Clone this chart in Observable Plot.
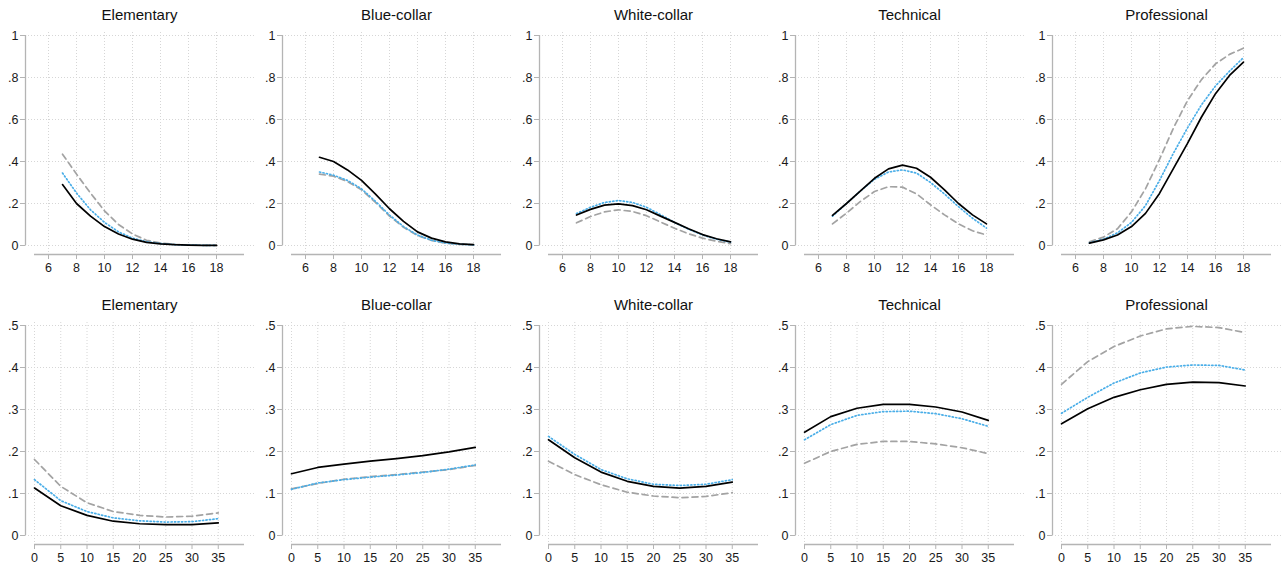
<!DOCTYPE html>
<html>
<head>
<meta charset="utf-8">
<script src="https://cdn.jsdelivr.net/npm/d3@7"></script>
<script src="https://cdn.jsdelivr.net/npm/@observablehq/plot@0.6"></script>
<style>
  html, body { margin: 0; padding: 0; background: #fff; }
  #wrap { position: relative; width: 1287px; height: 571px; font-family: "Liberation Sans", Arial, sans-serif; }
  .panel { position: absolute; width: 257px; }
  .ttl { height: 28px; line-height: 30px; text-align: center; font-size: 15px; color: #111; padding-left: 22px; box-sizing: border-box; }
  svg { display: block; }
</style>
</head>
<body>
<div id="wrap"></div>
<script>
const occupations = ["Elementary", "Blue-collar", "White-collar", "Technical", "Professional"];

// Top row: x = 7..18
const xTop = [7, 8, 9, 10, 11, 12, 13, 14, 15, 16, 17, 18];
const xTopDomain = [5, 20];
const xTopTicks = [6, 8, 10, 12, 14, 16, 18];
const yTopDomain = [0, 1];
const yTopTicks = [0, 0.2, 0.4, 0.6, 0.8, 1];

const topSolid = [
  [0.29, 0.20, 0.14, 0.09, 0.055, 0.03, 0.015, 0.008, 0.004, 0.002, 0.001, 0.0005],
  [0.42, 0.40, 0.36, 0.31, 0.245, 0.175, 0.115, 0.065, 0.035, 0.017, 0.008, 0.004],
  [0.145, 0.172, 0.192, 0.198, 0.19, 0.17, 0.14, 0.11, 0.08, 0.052, 0.032, 0.017],
  [0.143, 0.20, 0.26, 0.32, 0.365, 0.383, 0.368, 0.325, 0.265, 0.20, 0.146, 0.103],
  [0.011, 0.027, 0.05, 0.09, 0.153, 0.248, 0.367, 0.486, 0.612, 0.723, 0.81, 0.873]
];
const topDotted = [
  [0.345, 0.25, 0.17, 0.11, 0.065, 0.035, 0.018, 0.009, 0.004, 0.002, 0.001, 0.0005],
  [0.35, 0.335, 0.31, 0.27, 0.21, 0.145, 0.09, 0.05, 0.025, 0.012, 0.006, 0.003],
  [0.152, 0.182, 0.205, 0.214, 0.205, 0.182, 0.147, 0.11, 0.078, 0.05, 0.03, 0.016],
  [0.14, 0.20, 0.26, 0.315, 0.35, 0.36, 0.345, 0.30, 0.245, 0.185, 0.13, 0.083],
  [0.013, 0.03, 0.06, 0.11, 0.19, 0.31, 0.44, 0.56, 0.67, 0.76, 0.83, 0.895]
];
const topDashed = [
  [0.435, 0.34, 0.25, 0.165, 0.10, 0.055, 0.025, 0.012, 0.005, 0.002, 0.001, 0.0005],
  [0.34, 0.33, 0.305, 0.265, 0.205, 0.14, 0.087, 0.048, 0.024, 0.011, 0.005, 0.002],
  [0.108, 0.138, 0.16, 0.17, 0.162, 0.142, 0.112, 0.082, 0.056, 0.035, 0.02, 0.009],
  [0.103, 0.154, 0.21, 0.257, 0.28, 0.278, 0.246, 0.194, 0.146, 0.103, 0.07, 0.05],
  [0.018, 0.04, 0.08, 0.16, 0.27, 0.41, 0.56, 0.69, 0.79, 0.865, 0.91, 0.94]
];

// Bottom row: x = 0..35
const xBottom = [0, 5, 10, 15, 20, 25, 30, 35];
const xBottomDomain = [0, 40];
const xBottomTicks = [0, 5, 10, 15, 20, 25, 30, 35];
const yBottomDomain = [0, 0.5];
const yBottomTicks = [0, 0.1, 0.2, 0.3, 0.4, 0.5];

const bottomSolid = [
  [0.113, 0.071, 0.048, 0.034, 0.028, 0.026, 0.026, 0.030],
  [0.147, 0.162, 0.170, 0.177, 0.183, 0.190, 0.199, 0.210],
  [0.228, 0.185, 0.151, 0.129, 0.117, 0.113, 0.117, 0.127],
  [0.246, 0.283, 0.303, 0.312, 0.312, 0.306, 0.294, 0.274],
  [0.266, 0.302, 0.329, 0.347, 0.360, 0.365, 0.364, 0.356]
];
const bottomDotted = [
  [0.133, 0.083, 0.057, 0.042, 0.035, 0.032, 0.033, 0.040],
  [0.110, 0.125, 0.133, 0.139, 0.144, 0.150, 0.158, 0.168],
  [0.236, 0.193, 0.157, 0.135, 0.122, 0.119, 0.122, 0.133],
  [0.228, 0.264, 0.286, 0.295, 0.296, 0.290, 0.278, 0.260],
  [0.291, 0.329, 0.363, 0.387, 0.401, 0.406, 0.405, 0.394]
];
const bottomDashed = [
  [0.181, 0.117, 0.078, 0.057, 0.048, 0.044, 0.046, 0.054],
  [0.111, 0.124, 0.134, 0.140, 0.145, 0.151, 0.157, 0.167],
  [0.177, 0.145, 0.121, 0.103, 0.094, 0.090, 0.093, 0.102],
  [0.172, 0.200, 0.217, 0.224, 0.224, 0.218, 0.209, 0.195],
  [0.360, 0.414, 0.450, 0.475, 0.492, 0.498, 0.495, 0.483]
];

const seriesStyles = [
  {stroke: "#000000", strokeWidth: 1.7, strokeDasharray: null},
  {stroke: "#4aaee8", strokeWidth: 1.7, strokeDasharray: "1.2,2.3"},
  {stroke: "#a3a3a3", strokeWidth: 1.7, strokeDasharray: "6,4"}
];

const fmt = d => d === 0 ? "0" : d === 1 ? "1" : d3.format(".1f")(d).replace(/^0\./, ".");

const axisColor = "#b4b4b4";
const gridColor = "#d6d6d6";

function panel(xs, seriesList, xDomain, xTicks, yDomain, yTicks, height, marginBottom) {
  const marks = [
    Plot.ruleY(yTicks, {stroke: gridColor, strokeDasharray: "1,2", strokeWidth: 1, insetLeft: -9, insetRight: -11}),
    Plot.ruleX(xTicks, {stroke: gridColor, strokeDasharray: "1,2", strokeWidth: 1, insetTop: -3, insetBottom: -9}),
    Plot.ruleX([xDomain[0]], {y1: yDomain[0], y2: yDomain[1], dx: -9, stroke: axisColor, strokeWidth: 1.3}),
    Plot.ruleY([yDomain[0]], {x1: xDomain[0], x2: xDomain[1], dy: 9, stroke: axisColor, strokeWidth: 1.3}),
    Plot.axisY({ticks: yTicks, tickFormat: fmt, label: null, tickSize: 5, tickPadding: 2, dx: -9, stroke: axisColor, fill: "#1a1a1a", fontSize: 12.5}),
    Plot.axisX({ticks: xTicks, tickFormat: d => String(d), label: null, tickSize: 5, tickPadding: 4, dy: 9, stroke: axisColor, fill: "#1a1a1a", fontSize: 12.5})
  ];
  // draw back-to-front: dashed, dotted, solid
  [2, 1, 0].forEach(si => {
    const data = xs.map((x, i) => ({x, y: seriesList[si][i]}));
    const st = seriesStyles[si];
    const opts = {x: "x", y: "y", stroke: st.stroke, strokeWidth: st.strokeWidth, curve: "linear"};
    if (st.strokeDasharray) opts.strokeDasharray = st.strokeDasharray;
    marks.push(Plot.line(data, opts));
  });
  return Plot.plot({
    width: 257,
    height,
    marginTop: 7,
    marginBottom,
    marginLeft: 34,
    marginRight: 13,
    x: {domain: xDomain, axis: null, label: null},
    y: {domain: yDomain, axis: null, label: null},
    style: {fontFamily: "'Liberation Sans', Arial, sans-serif", fontSize: "12.5px", background: "#fff", overflow: "visible"},
    marks
  });
}

const wrap = document.getElementById("wrap");
occupations.forEach((name, i) => {
  const left = Math.round(i * 256.75);
  // top row
  const t = document.createElement("div");
  t.className = "panel";
  t.style.left = left + "px";
  t.style.top = "0px";
  const tt = document.createElement("div");
  tt.className = "ttl";
  tt.textContent = name;
  t.appendChild(tt);
  t.appendChild(panel(xTop, [topSolid[i], topDotted[i], topDashed[i]], xTopDomain, xTopTicks, yTopDomain, yTopTicks, 257, 40));
  wrap.appendChild(t);
  // bottom row
  const b = document.createElement("div");
  b.className = "panel";
  b.style.left = left + "px";
  b.style.top = "290px";
  const bt = document.createElement("div");
  bt.className = "ttl";
  bt.textContent = name;
  b.appendChild(bt);
  b.appendChild(panel(xBottom, [bottomSolid[i], bottomDotted[i], bottomDashed[i]], xBottomDomain, xBottomTicks, yBottomDomain, yBottomTicks, 253, 36));
  wrap.appendChild(b);
});
</script>
</body>
</html>
